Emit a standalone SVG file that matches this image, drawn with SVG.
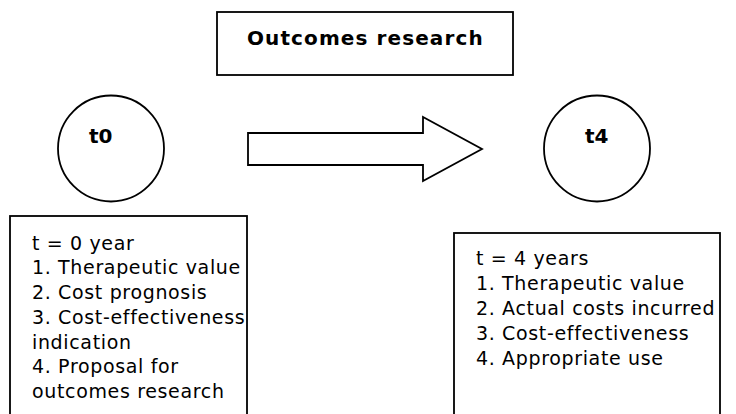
<svg xmlns="http://www.w3.org/2000/svg" width="736" height="414" viewBox="0 0 736 414">
  <style>
    .shape { fill: #ffffff; stroke: #000000; stroke-width: 1.8; }
    .title { font-family: "DejaVu Sans", "Liberation Sans", sans-serif; font-size: 20px; font-weight: bold; fill: #000000; }
    .body { font-family: "DejaVu Sans", "Liberation Sans", sans-serif; font-size: 19px; fill: #000000; letter-spacing: 0.65px; }
  </style>
  <rect width="736" height="414" fill="#ffffff"/>

  <g id="title">
    <rect class="shape" x="217" y="12" width="296" height="63"/>
    <text class="title" x="247" y="45" font-size="21" letter-spacing="1.1">Outcomes research</text>
  </g>

  <g id="t0">
    <circle class="shape" cx="111" cy="148.5" r="53"/>
    <text class="title" x="89" y="143">t0</text>
  </g>

  <g id="t4">
    <circle class="shape" cx="597" cy="148.5" r="53"/>
    <text class="title" x="585" y="143">t4</text>
  </g>

  <g id="connectors">
    <path class="shape" d="M248,133 H423 V117 L482,149 L423,181 V165 H248 Z"/>
  </g>

  <g id="year0">
    <rect class="shape" x="10" y="216" width="237" height="210"/>
    <text class="body" x="32" y="249.5">t = 0 year</text>
    <text class="body" x="32" y="274.3">1. Therapeutic value</text>
    <text class="body" x="32" y="299">2. Cost prognosis</text>
    <text class="body" x="32" y="323.8">3. Cost-effectiveness</text>
    <text class="body" x="32" y="348.5">indication</text>
    <text class="body" x="32" y="373.3">4. Proposal for</text>
    <text class="body" x="32" y="398">outcomes research</text>
  </g>

  <g id="year4">
    <rect class="shape" x="454" y="233" width="266" height="200"/>
    <text class="body" x="476" y="265">t = 4 years</text>
    <text class="body" x="476" y="290">1. Therapeutic value</text>
    <text class="body" x="476" y="315">2. Actual costs incurred</text>
    <text class="body" x="476" y="340">3. Cost-effectiveness</text>
    <text class="body" x="476" y="365">4. Appropriate use</text>
  </g>
</svg>
